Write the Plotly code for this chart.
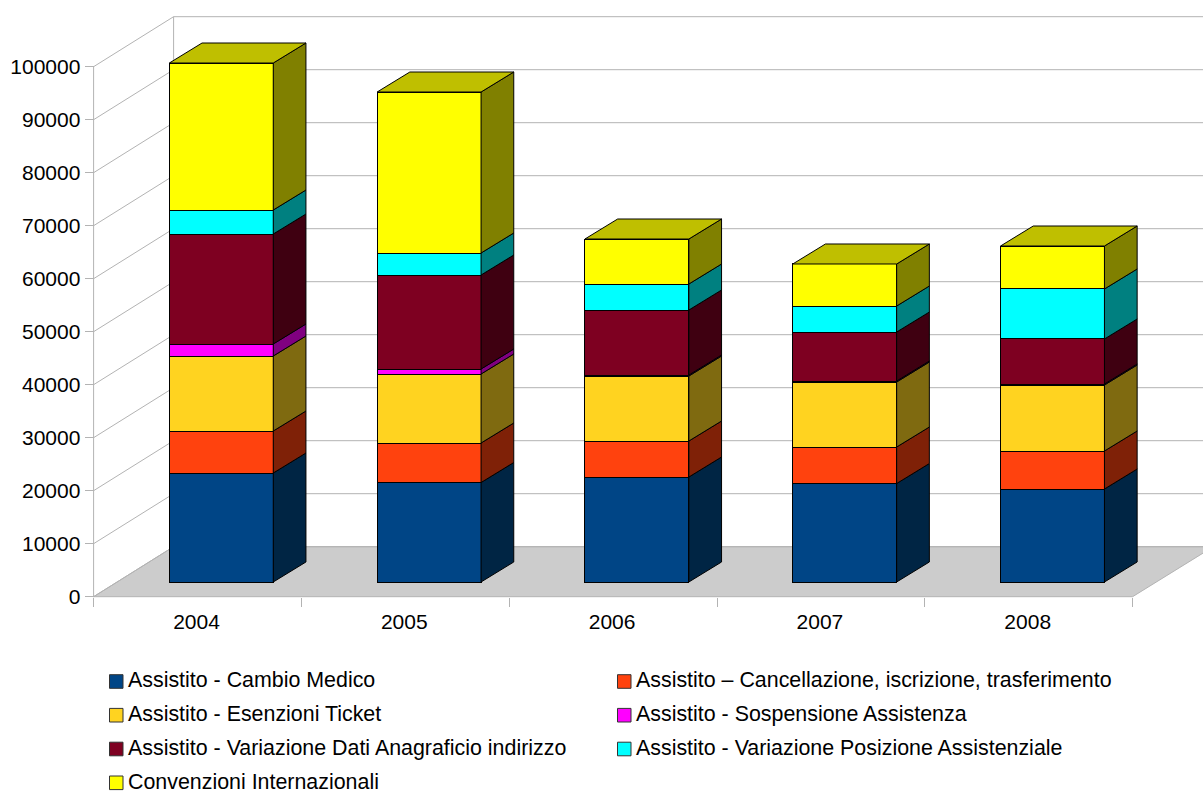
import plotly.graph_objects as go

W, H = 1203, 793
years = [2004, 2005, 2006, 2007, 2008]
names = [
    "Assistito - Cambio Medico",
    "Assistito – Cancellazione, iscrizione, trasferimento",
    "Assistito - Esenzioni Ticket",
    "Assistito - Sospensione Assistenza",
    "Assistito - Variazione Dati Anagraficio indirizzo",
    "Assistito - Variazione Posizione Assistenziale",
    "Convenzioni Internazionali",
]
cambio = [20566, 18774, 19811, 18585, 17547]
cancellazione = [7925, 7453, 6792, 6887, 7170]
esenzioni = [14151, 13019, 12264, 12264, 12453]
sospensione = [2264, 943, 189, 189, 189]
anagrafica = [20755, 17736, 12264, 9245, 8491]
posizione = [4528, 4151, 4906, 4906, 9434]
convenzioni = [27736, 30377, 8491, 7925, 8113]
series = [cambio, cancellazione, esenzioni, sospensione, anagrafica, posizione, convenzioni]

front = ["#004586", "#ff420e", "#ffd320", "#ff00ff", "#7e0021", "#00ffff", "#ffff00"]
side = ["#002544", "#7f2107", "#7f6a10", "#800080", "#3f0011", "#008080", "#808000"]
top_col = "#bfbf00"
grid = "#b3b3b3"
yticks = list(range(0, 100001, 10000))

# projection of the chart box
PX_X = 207.8          # pixels per category
PX_Y = 5.30 / 1000    # pixels per unit
X0, Y0 = 93.6, 596.7  # front corner of the floor
BX0, BY0 = 221.3, 582 # centre of first bar, bar baseline
WALL_DX, WALL_DY = 80 / PX_X, 50 / PX_Y
BAR_DX, BAR_DY = 32.7 / PX_X, 20 / PX_Y
BAR_W = 0.5

fig = go.Figure()

# floor
right = (W - X0) / PX_X
fig.add_trace(go.Scatter(
    x=[0, WALL_DX, right + 0.05, 5, 0],
    y=[0, WALL_DY, WALL_DY, 0, 0],
    mode="lines", fill="toself", fillcolor="#cccccc", line=dict(color=grid, width=1),
    hoverinfo="skip", showlegend=False))
# gridlines on side wall and back wall
gx, gy = [], []
for v in yticks:
    gx += [0, WALL_DX, right + 0.05, None]
    gy += [v, v + WALL_DY, v + WALL_DY, None]
gx += [0, 0, None, WALL_DX, WALL_DX]
gy += [0, yticks[-1], None, WALL_DY, yticks[-1] + WALL_DY]
fig.add_trace(go.Scatter(x=gx, y=gy, mode="lines", line=dict(color=grid, width=1),
                         hoverinfo="skip", showlegend=False))

# front faces: stacked bars on the plane of the bars
for name, vals, col in zip(names, series, front):
    fig.add_trace(go.Bar(x=years, y=vals, name=name, width=BAR_W, xaxis="x2", yaxis="y2",
                         marker=dict(color=col, line=dict(color="#000000", width=1)),
                         showlegend=False))

# side faces and top face, derived from the same values
totals = [0] * len(years)
for vals, col in zip(series, side):
    sx, sy = [], []
    for i, yr in enumerate(years):
        x1 = yr + BAR_W / 2
        lo, hi = totals[i], totals[i] + vals[i]
        sx += [x1, x1 + BAR_DX, x1 + BAR_DX, x1, x1, None]
        sy += [lo, lo + BAR_DY, hi + BAR_DY, hi, lo, None]
        totals[i] = hi
    fig.add_trace(go.Scatter(x=sx, y=sy, mode="lines", fill="toself", fillcolor=col,
                             line=dict(color="#000000", width=1), xaxis="x2", yaxis="y2",
                             hoverinfo="skip", showlegend=False))
tx, ty = [], []
for i, yr in enumerate(years):
    x0, x1 = yr - BAR_W / 2, yr + BAR_W / 2
    t = totals[i]
    tx += [x0, x0 + BAR_DX, x1 + BAR_DX, x1, x0, None]
    ty += [t, t + BAR_DY, t + BAR_DY, t, t, None]
fig.add_trace(go.Scatter(x=tx, y=ty, mode="lines", fill="toself", fillcolor=top_col,
                         line=dict(color="#000000", width=1), xaxis="x2", yaxis="y2",
                         hoverinfo="skip", showlegend=False))

# legend laid out in the original two columns
shapes, annotations = [], []
col_x = [109.5, 617.5]
row_y = [681.5, 715.2, 749, 782.8]
for k, (name, col) in enumerate(zip(names, front)):
    px = col_x[k % 2]
    py = row_y[k // 2]
    shapes.append(dict(type="rect", xref="paper", yref="paper",
                       x0=px / W, x1=(px + 13.5) / W,
                       y0=1 - (py + 6.8) / H, y1=1 - (py - 6.8) / H,
                       fillcolor=col, line=dict(color="#333333", width=1)))
    annotations.append(dict(text=name, xref="paper", yref="paper", showarrow=False, borderpad=0,
                            x=(px + 17) / W, y=1 - (py - 1.3) / H, xanchor="left", yanchor="middle",
                            font=dict(family="Liberation Sans", size=21.4, color="#000000")))

font = dict(family="Liberation Sans", size=21, color="#000000")
fig.update_layout(
    width=W, height=H, margin=dict(l=0, r=0, t=0, b=0),
    paper_bgcolor="white", plot_bgcolor="white", barmode="stack", showlegend=False,
    shapes=shapes, annotations=annotations, font=font,
    xaxis=dict(domain=[0, 1], range=[-X0 / PX_X, (W - X0) / PX_X], anchor="free",
               position=(H - Y0) / H, showgrid=False, zeroline=False, showline=False,
               tickmode="array", tickvals=[i + 0.5 for i in range(len(years))],
               ticktext=[str(y) for y in years], ticks="", tickfont=font, ticklabelstandoff=10,
               ticklabelshift=-1,
               minor=dict(tickmode="array", tickvals=list(range(len(years) + 1)), ticks="outside",
                          ticklen=9, tickcolor=grid, tickwidth=1, showgrid=False)),
    yaxis=dict(domain=[0, 1], range=[(Y0 - H) / PX_Y, Y0 / PX_Y], anchor="free",
               position=X0 / W, showgrid=False, zeroline=False, showline=False,
               tickmode="array", tickvals=yticks, ticktext=[str(v) for v in yticks],
               ticks="outside", ticklen=9, tickcolor=grid, tickwidth=1, tickfont=font),
    xaxis2=dict(overlaying="x", domain=[0, 1], visible=False,
                range=[years[0] - BX0 / PX_X, years[0] + (W - BX0) / PX_X]),
    yaxis2=dict(overlaying="y", domain=[0, 1], visible=False,
                range=[(BY0 - H) / PX_Y, BY0 / PX_Y]),
)
fig.write_html("out.html", post_script="document.body.style.margin='0';document.body.style.overflow='hidden';",
               config=dict(displayModeBar=False))
